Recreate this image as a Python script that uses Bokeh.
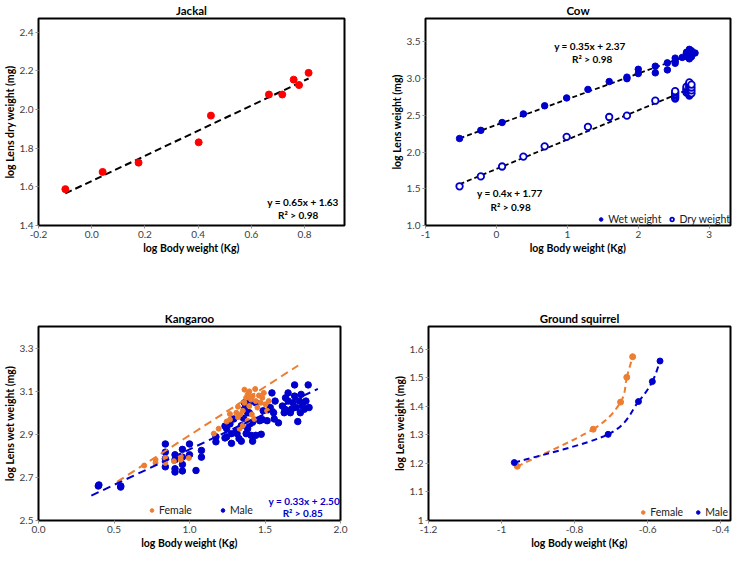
from bokeh.plotting import figure
from bokeh.layouts import column, row, Spacer
from bokeh.models import Range1d, FixedTicker, Label, Legend, LegendItem
from bokeh.embed import file_html
from bokeh.resources import INLINE
import numpy as np

FONT = "Lato"
BLUE = "#0000CC"
ORANGE = "#ED7D31"
RED = "#FF0000"

# ---------------- Jackal ----------------
jackal_x = [-0.099, 0.041, 0.176, 0.402, 0.448, 0.666, 0.716, 0.759, 0.779, 0.815]
jackal_y = [1.588, 1.677, 1.725, 1.830, 1.968, 2.077, 2.077, 2.154, 2.126, 2.189]
jackal_slope, jackal_intercept = 0.65, 1.63
jackal_xticks = [-0.2, 0.0, 0.2, 0.4, 0.6, 0.8]
jackal_xlabels = ["-0.2", "0.0", "0.2", "0.4", "0.6", "0.8"]
jackal_yticks = [1.4, 1.6, 1.8, 2.0, 2.2, 2.4]
jackal_ylabels = ["1.4", "1.6", "1.8", "2.0", "2.2", "2.4"]

# ---------------- Cow ----------------
cow_wet_x = [-0.52, -0.22, 0.08, 0.38, 0.68, 0.99, 1.29, 1.59, 1.84, 1.84, 2.0, 2.0, 2.24, 2.24,
             2.41, 2.41, 2.52, 2.52, 2.52, 2.62, 2.68, 2.68, 2.68, 2.72, 2.72, 2.72, 2.72, 2.75, 2.75, 2.80]
cow_wet_y = [2.185, 2.296, 2.403, 2.52, 2.631, 2.738, 2.854, 2.961, 3.021, 3.0, 3.128, 3.07, 3.17, 3.08,
             3.216, 3.12, 3.21, 3.24, 3.28, 3.29, 3.30, 3.34, 3.36, 3.27, 3.32, 3.36, 3.40, 3.30, 3.38, 3.35]
cow_dry_x = [-0.52, -0.22, 0.08, 0.38, 0.68, 0.99, 1.29, 1.59, 1.84, 2.24,
             2.52, 2.52, 2.52, 2.52, 2.52, 2.52,
             2.68, 2.68, 2.68, 2.68, 2.68,
             2.72, 2.72, 2.72, 2.72, 2.72, 2.72, 2.72, 2.72, 2.72, 2.72,
             2.75, 2.75, 2.75, 2.75]
cow_dry_y = [1.534, 1.669, 1.804, 1.939, 2.078, 2.208, 2.343, 2.478, 2.496, 2.70,
             2.73, 2.75, 2.77, 2.79, 2.81, 2.83,
             2.81, 2.83, 2.85, 2.87, 2.89,
             2.77, 2.79, 2.81, 2.83, 2.85, 2.87, 2.89, 2.91, 2.93, 2.95,
             2.80, 2.84, 2.88, 2.92]
cow_wet_slope, cow_wet_intercept = 0.35, 2.37
cow_dry_slope, cow_dry_intercept = 0.4, 1.77
cow_xticks = [-1, 0, 1, 2, 3]
cow_xlabels = ["-1", "0", "1", "2", "3"]
cow_yticks = [1.0, 1.5, 2.0, 2.5, 3.0, 3.5]
cow_ylabels = ["1.0", "1.5", "2.0", "2.5", "3.0", "3.5"]

# ---------------- Kangaroo ----------------
kang_male_x = [0.396, 0.40, 0.544, 0.545, 0.84, 0.84, 0.84, 0.84, 0.904, 0.904, 0.904, 0.904,
               0.953, 0.953, 0.953, 0.953, 1.0, 1.0, 1.043, 1.079, 1.079, 1.175, 1.175, 1.235, 1.235,
               1.246, 1.268, 1.278, 1.293, 1.31, 1.328, 1.343, 1.358, 1.375, 1.385, 1.396, 1.40, 1.407,
               1.343, 1.364, 1.385, 1.418, 1.418, 1.439, 1.278, 1.246, 1.315,
               1.475, 1.482, 1.488, 1.514, 1.535, 1.546, 1.557, 1.567, 1.589, 1.561,
               1.632, 1.653, 1.653, 1.668, 1.685, 1.696, 1.707, 1.696, 1.717, 1.728, 1.739, 1.749,
               1.760, 1.771, 1.786, 1.792, 1.615, 1.627, 1.675, 1.734, 1.636,
               1.439, 1.396, 1.465, 1.364]
kang_male_y = [2.66, 2.665, 2.655, 2.66, 2.855, 2.817, 2.787, 2.749, 2.805, 2.782, 2.740, 2.725,
               2.83, 2.794, 2.76, 2.73, 2.855, 2.805, 2.732, 2.825, 2.794, 2.888, 2.865, 2.938, 2.883,
               2.926, 2.948, 2.903, 2.971, 2.918, 2.88, 2.94, 2.974, 2.903, 2.926, 3.046, 2.948, 2.895,
               2.868, 3.046, 3.0, 2.956, 2.868, 2.895, 2.858, 2.888, 2.903,
               2.90, 2.968, 3.009, 2.963, 3.024, 3.092, 3.0, 3.054, 2.953, 2.971,
               3.016, 3.054, 3.092, 3.0, 3.046, 3.077, 3.024, 3.129, 2.959, 3.054, 3.085, 3.031,
               3.016, 3.054, 3.129, 3.024, 3.031, 3.0, 3.016, 3.0, 3.069,
               3.046, 3.0, 2.963, 3.017]
kang_female_x = [0.70, 0.775, 0.775, 0.84, 0.84, 0.897, 0.942, 0.942, 0.996, 1.193, 1.161, 1.246,
                 1.268, 1.31, 1.321, 1.336, 1.353, 1.364, 1.375, 1.385, 1.396, 1.407, 1.418, 1.435,
                 1.439, 1.45, 1.46, 1.471, 1.482, 1.503, 1.514, 1.413, 1.428, 1.353, 1.385, 1.332,
                 1.396, 1.492, 1.525, 1.364, 1.321, 1.268]
kang_female_y = [2.755, 2.782, 2.767, 2.79, 2.767, 2.775, 2.797, 2.782, 2.79, 2.926, 2.903, 2.959,
                 2.968, 3.0, 3.028, 2.992, 3.009, 3.107, 3.069, 3.084, 3.099, 3.061, 3.077, 3.110,
                 3.054, 3.024, 3.08, 3.046, 3.069, 3.039, 3.009, 2.992, 2.971, 2.94, 2.963, 2.926,
                 3.031, 3.092, 3.054, 3.046, 2.979, 2.994]
kang_male_slope, kang_male_intercept = 0.33, 2.50
kang_male_fit_range = [0.35, 1.85]
kang_female_slope, kang_female_intercept = 0.45, 2.445
kang_female_fit_range = [0.52, 1.72]
kang_xticks = [0.0, 0.5, 1.0, 1.5, 2.0]
kang_xlabels = ["0.0", "0.5", "1.0", "1.5", "2.0"]
kang_yticks = [2.5, 2.7, 2.9, 3.1, 3.3]
kang_ylabels = ["2.5", "2.7", "2.9", "3.1", "3.3"]

# ---------------- Ground squirrel ----------------
sq_female_x = [-0.957, -0.749, -0.674, -0.657, -0.641]
sq_female_y = [1.19, 1.32, 1.415, 1.502, 1.574]
sq_male_x = [-0.965, -0.708, -0.625, -0.587, -0.566]
sq_male_y = [1.203, 1.302, 1.417, 1.487, 1.559]
sq_xticks = [-1.2, -1.0, -0.8, -0.6, -0.4]
sq_xlabels = ["-1.2", "-1", "-0.8", "-0.6", "-0.4"]
sq_yticks = [1.0, 1.1, 1.2, 1.3, 1.4, 1.5, 1.6]
sq_ylabels = ["1", "1.1", "1.2", "1.3", "1.4", "1.5", "1.6"]


def make_fig(title, w, h, xr, yr, xt, xl, yt, yl, xlabel, ylabel, mbl, mbr, mbt, mbb):
    p = figure(width=w, height=h, x_range=Range1d(*xr), y_range=Range1d(*yr),
               output_backend="svg", toolbar_location=None, title=title,
               min_border_left=mbl, min_border_right=mbr, min_border_top=mbt,
               min_border_bottom=mbb)
    p.title.align = "center"
    p.title.text_font_size = "11.5px"
    p.title.text_font_style = "bold"
    p.title.text_font = FONT
    p.title.text_color = "black"
    p.title.standoff = 3
    p.xgrid.visible = False
    p.ygrid.visible = False
    p.outline_line_color = "black"
    p.outline_line_width = 2
    p.outline_line_alpha = 1
    p.background_fill_color = "white"
    p.border_fill_color = "white"
    for ax, ticks, labels, lab in ((p.xaxis[0], xt, xl, xlabel), (p.yaxis[0], yt, yl, ylabel)):
        ax.ticker = FixedTicker(ticks=[float(t) for t in ticks])
        ax.major_label_overrides = {float(t): l for t, l in zip(ticks, labels)}
        ax.minor_tick_line_color = None
        ax.major_tick_in = 0
        ax.major_tick_out = 3
        ax.major_tick_line_color = "#909090"
        ax.axis_line_color = None
        ax.major_label_text_font_size = "10px"
        ax.major_label_text_font = FONT
        ax.major_label_text_color = "#404040"
        ax.major_label_standoff = 2
        ax.axis_label = lab
        ax.axis_label_text_font_size = "10.5px"
        ax.axis_label_text_font_style = "bold"
        ax.axis_label_text_font = FONT
        ax.axis_label_text_color = "black"
        ax.axis_label_standoff = 1
    return p


def eq_label(p, x, y, text, color="black"):
    p.add_layout(Label(x=x, y=y, text=text, text_align="center", text_baseline="middle",
                       text_font_size="10px", text_font_style="bold", text_font=FONT,
                       text_color=color))


def make_legend(items, location, spacing, margin=2):
    return Legend(items=items, orientation="horizontal", location=location,
                  border_line_color=None, background_fill_alpha=0,
                  label_text_font_size="10.5px", label_text_font=FONT, label_text_color="#202020",
                  glyph_width=9, glyph_height=12, label_standoff=3, spacing=spacing,
                  padding=1, margin=margin)


def bezier_segments(xs, ys):
    pts = np.column_stack([xs, ys]).astype(float)
    P = np.vstack([pts[0], pts, pts[-1]])
    seg = {k: [] for k in ("x0", "y0", "x1", "y1", "cx0", "cy0", "cx1", "cy1")}
    for i in range(len(pts) - 1):
        p0, p1, p2, p3 = P[i], P[i + 1], P[i + 2], P[i + 3]
        c1 = p1 + (p2 - p0) / 6.0
        c2 = p2 - (p3 - p1) / 6.0
        seg["x0"].append(p1[0]); seg["y0"].append(p1[1])
        seg["x1"].append(p2[0]); seg["y1"].append(p2[1])
        seg["cx0"].append(c1[0]); seg["cy0"].append(c1[1])
        seg["cx1"].append(c2[0]); seg["cy1"].append(c2[1])
    return seg


TOP_H = 256
BOT_H = 243
GAP = 52

# ---- Jackal panel ----
p1 = make_fig("Jackal", 366, TOP_H, (-0.2, 0.95), (1.4, 2.47), jackal_xticks, jackal_xlabels,
              jackal_yticks, jackal_ylabels, "log Body weight (Kg)", "log Lens dry weight (mg)",
              30, 22, 14, 20)
jx = np.array([min(jackal_x), max(jackal_x)])
p1.line(jx, jackal_slope * jx + jackal_intercept, line_color="black", line_width=2, line_dash="7 4")
p1.scatter(jackal_x, jackal_y, size=7, fill_color=RED, line_color=RED)
eq_label(p1, 0.794, 1.523, "y = 0.65x + 1.63")
eq_label(p1, 0.776, 1.453, "R² > 0.98")

# ---- Cow panel ----
p2 = make_fig("Cow", 366, TOP_H, (-1, 3.3), (1.0, 3.82), cow_xticks, cow_xlabels,
              cow_yticks, cow_ylabels, "log Body weight (Kg)", "log Lens weight (mg)",
              59, 2, 14, 20)
wx = np.array([min(cow_wet_x), max(cow_wet_x)])
dx = np.array([min(cow_dry_x), max(cow_dry_x)])
p2.line(wx, cow_wet_slope * wx + cow_wet_intercept, line_color="black", line_width=1.8, line_dash="5 3")
p2.line(dx, cow_dry_slope * dx + cow_dry_intercept, line_color="black", line_width=1.8, line_dash="5 3")
r_wet = p2.scatter(cow_wet_x, cow_wet_y, size=6.5, fill_color=BLUE, line_color=BLUE)
r_dry = p2.scatter(cow_dry_x, cow_dry_y, size=6.5, fill_color="white", line_color=BLUE, line_width=1.8)
eq_label(p2, 1.317, 3.44, "y = 0.35x + 2.37")
eq_label(p2, 1.35, 3.27, "R² > 0.98")
eq_label(p2, 0.188, 1.44, "y = 0.4x + 1.77")
eq_label(p2, 0.2, 1.246, "R² > 0.98")
p2.add_layout(make_legend([LegendItem(label="Wet weight", renderers=[r_wet]),
                           LegendItem(label="Dry weight", renderers=[r_dry])], "bottom_right", 6, 0))

# ---- Kangaroo panel ----
p3 = make_fig("Kangaroo", 366, BOT_H, (0.0, 2.0), (2.5, 3.4), kang_xticks, kang_xlabels,
              kang_yticks, kang_ylabels, "log Body weight (Kg)", "log Lens wet weight (mg)",
              28, 26, 18, 20)
r_km = p3.scatter(kang_male_x, kang_male_y, size=6.5, fill_color=BLUE, line_color=BLUE)
r_kf = p3.scatter(kang_female_x, kang_female_y, size=5, fill_color=ORANGE, line_color=ORANGE)
fx = np.array(kang_female_fit_range)
mx = np.array(kang_male_fit_range)
p3.line(fx, kang_female_slope * fx + kang_female_intercept, line_color=ORANGE, line_width=2, line_dash="8 5")
p3.line(mx, kang_male_slope * mx + kang_male_intercept, line_color=BLUE, line_width=2, line_dash="8 5")
eq_label(p3, 1.76, 2.59, "y = 0.33x + 2.50", BLUE)
eq_label(p3, 1.75, 2.533, "R² > 0.85", BLUE)
p3.add_layout(make_legend([LegendItem(label="Female", renderers=[r_kf]),
                           LegendItem(label="Male", renderers=[r_km])], (109, 4), 26))

# ---- Ground squirrel panel ----
p4 = make_fig("Ground squirrel", 366, BOT_H, (-1.2, -0.373), (1.0, 1.68), sq_xticks, sq_xlabels,
              sq_yticks, sq_ylabels, "log Body weight (Kg)", "log Lens weight (mg)",
              62, 2, 18, 20)
fseg = bezier_segments(sq_female_x, sq_female_y)
mseg = bezier_segments(sq_male_x, sq_male_y)
p4.bezier(x0=fseg["x0"], y0=fseg["y0"], x1=fseg["x1"], y1=fseg["y1"], cx0=fseg["cx0"], cy0=fseg["cy0"],
          cx1=fseg["cx1"], cy1=fseg["cy1"], line_color=ORANGE, line_width=2, line_dash="6 4")
p4.bezier(x0=mseg["x0"], y0=mseg["y0"], x1=mseg["x1"], y1=mseg["y1"], cx0=mseg["cx0"], cy0=mseg["cy0"],
          cx1=mseg["cx1"], cy1=mseg["cy1"], line_color=BLUE, line_width=2, line_dash="6 4")
r_sf = p4.scatter(sq_female_x, sq_female_y, size=6, fill_color=ORANGE, line_color=ORANGE)
r_sm = p4.scatter(sq_male_x, sq_male_y, size=6, fill_color=BLUE, line_color=BLUE)
p4.add_layout(make_legend([LegendItem(label="Female", renderers=[r_sf]),
                           LegendItem(label="Male", renderers=[r_sm])], "bottom_right", 10))

layout = column(row(p1, p2), Spacer(height=GAP, width=10), row(p3, p4))

with open("out.html", "w") as f:
    f.write(file_html(layout, INLINE))
